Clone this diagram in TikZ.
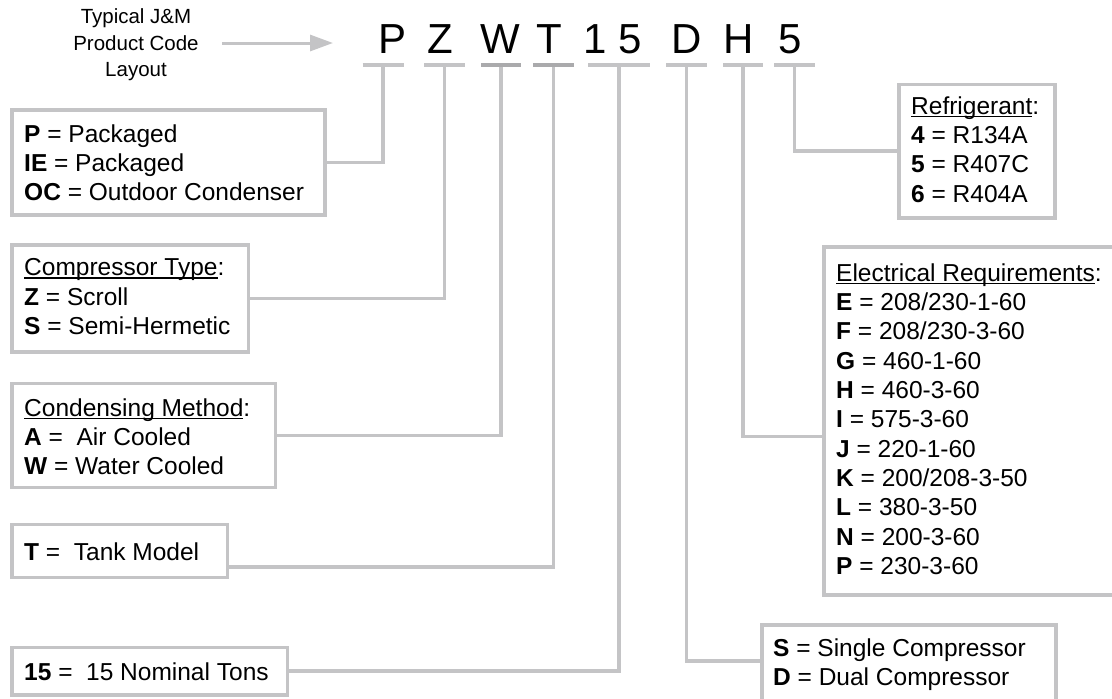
\documentclass[tikz,border=0pt]{standalone}
\usepackage{fontspec}
\setmainfont{Liberation Sans}
\usetikzlibrary{arrows.meta}
\definecolor{rule}{RGB}{196,196,198}
\definecolor{ruledark}{RGB}{170,170,172}
\newsavebox\ulinebox
\newcommand{\ulabel}[1]{\sbox\ulinebox{#1}\rlap{\rule[-2.8pt]{\wd\ulinebox}{1.4pt}}\usebox\ulinebox}

\begin{document}
\begin{tikzpicture}[x=1pt,y=-1pt,
  codebox/.style={draw=rule, line width=3.6pt, fill=white, inner sep=0pt, outer sep=0pt, anchor=north west},
  legend/.style={anchor=north west, inner sep=0pt, align=left, font=\fontsize{24.5}{29.3}\selectfont},
  letter/.style={anchor=base, inner sep=0pt, font=\fontsize{42}{42}\selectfont},
  codebar/.style={draw=rule, line width=4pt},
  codebardark/.style={draw=ruledark, line width=4pt},
  conn/.style={draw=rule, line width=3.6pt, line join=miter},
  pointer/.style={draw=rule, line width=3pt, -{Triangle[length=23pt,width=16pt]}},
]
\useasboundingbox (0,0) rectangle (1112,699);
\clip (0,0) rectangle (1112,699);

% heading and pointer arrow
\node[anchor=north, inner sep=0pt, align=center, font=\fontsize{20.5}{26.7}\selectfont] (title) at (136,8.3)
  {Typical J\&M\\Product Code\\Layout};
\coordinate (arrowTail) at (222,43);
\coordinate (arrowTip) at (333,43);
\draw[pointer] (arrowTail) -- (arrowTip);

% product code characters
\node[letter] (cP) at (393,53.5) {P};
\node[letter] (cZ) at (440,53.5) {Z};
\node[letter] (cW) at (500,53.5) {W};
\node[letter] (cT) at (549,53.5) {T};
\node[letter] (c1) at (595,53.5) {1};
\node[letter] (c5) at (630,53.5) {5};
\node[letter] (cD) at (687,53.5) {D};
\node[letter] (cH) at (739,53.5) {H};
\node[letter] (cR) at (790,53.5) {5};

% bar centres under each field
\coordinate (bP) at (383,65);
\coordinate (bZ) at (444.5,65);
\coordinate (bW) at (501,65);
\coordinate (bT) at (553.5,65);
\coordinate (b15) at (619,65);
\coordinate (bD) at (686.5,65);
\coordinate (bH) at (743,65);
\coordinate (bR) at (794.5,65);

% legend boxes
\node[codebox, minimum width=313pt, minimum height=105pt] (boxP) at (12,110) {};
\node[codebox, minimum width=236.5pt, minimum height=107pt] (boxZ) at (12,245) {};
\node[codebox, minimum width=263.5pt, minimum height=104pt] (boxW) at (12,383.5) {};
\node[codebox, minimum width=215.5pt, minimum height=53pt] (boxT) at (12,524.5) {};
\node[codebox, minimum width=275.5pt, minimum height=47.5pt] (box15) at (12,647.5) {};
\node[codebox, minimum width=156pt, minimum height=133.5pt] (boxR) at (899,84.5) {};
\node[codebox, minimum width=300pt, minimum height=348pt] (boxE) at (824,247) {};
\node[codebox, minimum width=294pt, minimum height=90pt] (boxD) at (762,625) {};

% bend targets that sit off the box centres
\coordinate (jT) at (227.5,567);
\coordinate (jD) at (762,661);
\coordinate (jH) at (824,436.5);

% connectors
\draw[conn] (bP) |- (boxP.east);
\draw[conn] (bZ) |- (boxZ.east);
\draw[conn] (bW) |- (boxW.east);
\draw[conn] (bT) |- (jT);
\draw[conn] (b15) |- (box15.east);
\draw[conn] (bD) |- (jD);
\draw[conn] (bH) |- (jH);
\draw[conn] (bR) |- (boxR.west);

% bars
\draw[codebar] ([xshift=-20.5pt]bP) -- ([xshift=20.5pt]bP);
\draw[codebar] ([xshift=-20.5pt]bZ) -- ([xshift=20.5pt]bZ);
\draw[codebardark] ([xshift=-20pt]bW) -- ([xshift=20pt]bW);
\draw[codebardark] ([xshift=-20.5pt]bT) -- ([xshift=20.5pt]bT);
\draw[codebar] ([xshift=-31pt]b15) -- ([xshift=31pt]b15);
\draw[codebar] ([xshift=-20.5pt]bD) -- ([xshift=20.5pt]bD);
\draw[codebar] ([xshift=-20pt]bH) -- ([xshift=20pt]bH);
\draw[codebar] ([xshift=-20.5pt]bR) -- ([xshift=20.5pt]bR);

% legend texts
\node[legend] (tP) at (24,124.4)
  {\textbf{P} = Packaged\\\textbf{IE} = Packaged\\\textbf{OC} = Outdoor Condenser};
\node[legend] (tZ) at (24,258.4)
  {\ulabel{Compressor Type}:\\\textbf{Z} = Scroll\\\textbf{S} = Semi-Hermetic};
\node[legend] (tW) at (24,398.4)
  {\ulabel{Condensing Method}:\\\textbf{A} =\ \ Air Cooled\\\textbf{W} = Water Cooled};
\node[legend] (tT) at (24,542.4) {\textbf{T} =\ \ Tank Model};
\node[legend] (t15) at (24,662.4) {\textbf{15} =\ \ 15 Nominal Tons};
\node[legend] (tR) at (911,96.4)
  {\ulabel{Refrigerant}:\\\textbf{4} = R134A\\\textbf{5} = R407C\\\textbf{6} = R404A};
\node[legend] (tE) at (836,263.4)
  {\ulabel{Electrical Requirements}:\\
   \textbf{E} = 208/230-1-60\\
   \textbf{F} = 208/230-3-60\\
   \textbf{G} = 460-1-60\\
   \textbf{H} = 460-3-60\\
   \textbf{I} = 575-3-60\\
   \textbf{J} = 220-1-60\\
   \textbf{K} = 200/208-3-50\\
   \textbf{L} = 380-3-50\\
   \textbf{N} = 200-3-60\\
   \textbf{P} = 230-3-60};
\node[legend] (tD) at (773,638.4)
  {\textbf{S} = Single Compressor\\\textbf{D} = Dual Compressor};
\end{tikzpicture}
\end{document}
